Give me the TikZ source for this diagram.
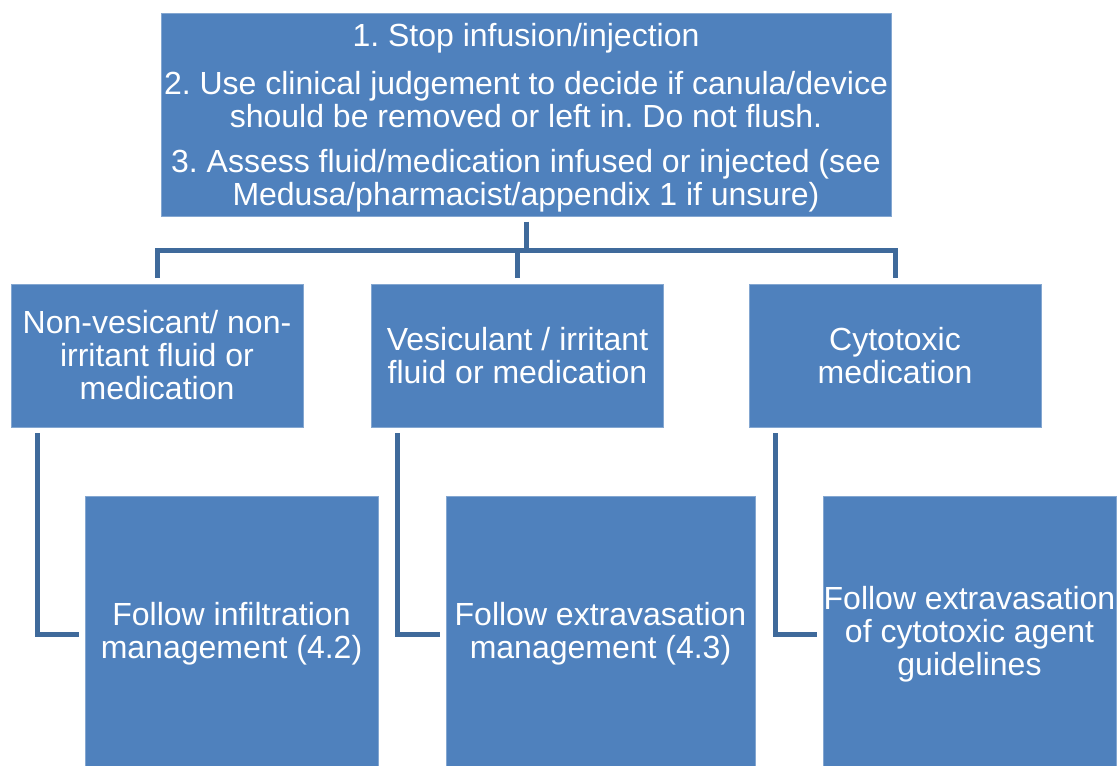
\documentclass[tikz,border=0pt]{standalone}
\usepackage{fontspec}
\setmainfont{Liberation Sans}
\definecolor{boxblue}{HTML}{4F81BD}
\definecolor{lineblue}{HTML}{3F6A9B}
\begin{document}
\begin{tikzpicture}[x=0.75pt,y=-0.75pt,
  card/.style={fill=boxblue,draw=boxblue!70!white,line width=0.5pt,text=white,
    inner sep=0pt,align=center,font=\fontsize{24}{24.75}\selectfont\frenchspacing},
  link/.style={draw=lineblue,line width=3.75pt}]
\path[use as bounding box,clip] (0,0) rectangle (1118,765);

\coordinate (T) at (526,114.5);
\coordinate (M1) at (157,355.5);
\coordinate (M2) at (517.5,355.5);
\coordinate (M3) at (895,355.5);
\coordinate (B1) at (231.5,634);
\coordinate (B2) at (600.5,634);
\coordinate (B3) at (969.5,634);
\coordinate (bus) at (526,250);

\node[card,minimum width=547.5pt,minimum height=152.25pt,text depth=-1pt] (assess) at (T)
  {1. Stop infusion/injection\\[11pt]
   2. Use clinical judgement to decide if canula/device\\
   should be removed or left in. Do not flush.\\[9pt]
   3. Assess fluid/medication infused or injected (see\\
   Medusa/pharmacist/appendix 1 if unsure)};

\node[card,minimum width=219pt,minimum height=107.25pt] (nonves) at (M1)
  {Non-vesicant/ non-\\irritant fluid or\\medication};
\node[card,minimum width=219pt,minimum height=107.25pt] (vesic) at (M2)
  {Vesiculant / irritant\\fluid or medication};
\node[card,minimum width=219pt,minimum height=107.25pt] (cyto) at (M3)
  {Cytotoxic\\medication};

\node[card,minimum width=219.75pt,minimum height=207pt] (infil) at (B1)
  {Follow infiltration\\management (4.2)};
\node[card,minimum width=231.75pt,minimum height=207pt] (extra) at (B2)
  {Follow extravasation\\management (4.3)};
\node[card,minimum width=219.75pt,minimum height=207pt] (cytoguide) at (B3)
  {Follow extravasation\\of cytotoxic agent\\guidelines};

\draw[link,shorten <=4pt] (assess.south) -- (bus);
\draw[link,shorten <=4.5pt,shorten >=4.5pt] (nonves.north) |- (bus) -| (cyto.north);
\draw[link,shorten >=4.5pt] (bus -| vesic.north) -- (vesic.north);

\draw[link,shorten <=4.5pt,shorten >=4pt] ([xshift=20pt]nonves.south west) |- (infil.west);
\draw[link,shorten <=4.5pt,shorten >=4pt] ([xshift=20pt]vesic.south west) |- (extra.west);
\draw[link,shorten <=4.5pt,shorten >=4pt] ([xshift=20pt]cyto.south west) |- (cytoguide.west);
\end{tikzpicture}
\end{document}
